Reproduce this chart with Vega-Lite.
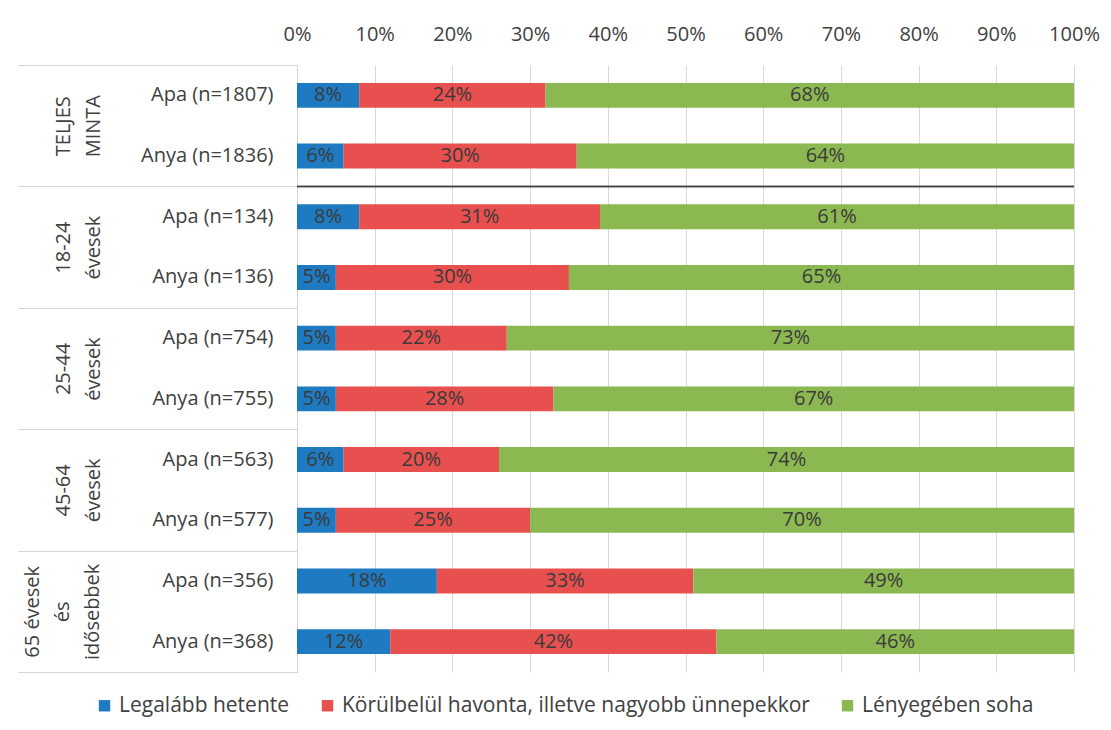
{
  "$schema": "https://vega.github.io/schema/vega-lite/v6.json",
  "width": 777,
  "height": 607,
  "autosize": {"type": "none"},
  "padding": {"left": 297, "top": 65, "right": 37, "bottom": 58},
  "background": "white",
  "config": {"view": {"stroke": null}, "font": "Open Sans"},
  "data": {
    "values": [
      {"group": "TELJES|MINTA", "row": "Apa (n=1807)", "Legalább hetente": 8, "Körülbelül havonta, illetve nagyobb ünnepekkor": 24, "Lényegében soha": 68},
      {"group": "TELJES|MINTA", "row": "Anya (n=1836)", "Legalább hetente": 6, "Körülbelül havonta, illetve nagyobb ünnepekkor": 30, "Lényegében soha": 64},
      {"group": "18-24|évesek", "row": "Apa (n=134)", "Legalább hetente": 8, "Körülbelül havonta, illetve nagyobb ünnepekkor": 31, "Lényegében soha": 61},
      {"group": "18-24|évesek", "row": "Anya (n=136)", "Legalább hetente": 5, "Körülbelül havonta, illetve nagyobb ünnepekkor": 30, "Lényegében soha": 65},
      {"group": "25-44|évesek", "row": "Apa (n=754)", "Legalább hetente": 5, "Körülbelül havonta, illetve nagyobb ünnepekkor": 22, "Lényegében soha": 73},
      {"group": "25-44|évesek", "row": "Anya (n=755)", "Legalább hetente": 5, "Körülbelül havonta, illetve nagyobb ünnepekkor": 28, "Lényegében soha": 67},
      {"group": "45-64|évesek", "row": "Apa (n=563)", "Legalább hetente": 6, "Körülbelül havonta, illetve nagyobb ünnepekkor": 20, "Lényegében soha": 74},
      {"group": "45-64|évesek", "row": "Anya (n=577)", "Legalább hetente": 5, "Körülbelül havonta, illetve nagyobb ünnepekkor": 25, "Lényegében soha": 70},
      {"group": "65 évesek|és|idősebbek", "row": "Apa (n=356)", "Legalább hetente": 18, "Körülbelül havonta, illetve nagyobb ünnepekkor": 33, "Lényegében soha": 49},
      {"group": "65 évesek|és|idősebbek", "row": "Anya (n=368)", "Legalább hetente": 12, "Körülbelül havonta, illetve nagyobb ünnepekkor": 42, "Lényegében soha": 46}
    ]
  },
  "resolve": {"scale": {"y": "independent"}, "axis": {"y": "independent"}},
  "layer": [
    {
      "transform": [
        {"fold": ["Legalább hetente", "Körülbelül havonta, illetve nagyobb ünnepekkor", "Lényegében soha"], "as": ["cat", "v"]},
        {"calculate": "indexof(['Legalább hetente', 'Körülbelül havonta, illetve nagyobb ünnepekkor', 'Lényegében soha'], datum.cat)", "as": "k"},
        {"stack": "v", "groupby": ["row"], "sort": [{"field": "k", "order": "ascending"}], "as": ["x0", "x1"]},
        {"calculate": "(datum.x0 + datum.x1) / 2", "as": "xm"},
        {"calculate": "datum.v + '%'", "as": "lab"}
      ],
      "layer": [
        {
          "mark": {"type": "bar"},
          "encoding": {
            "y": {
              "field": "row", "type": "nominal", "sort": null,
              "scale": {"type": "band", "paddingInner": 0.59, "paddingOuter": 0.295},
              "axis": {"orient": "left", "title": null, "ticks": false, "domain": false, "labelPadding": 24, "labelFontSize": 20, "labelColor": "#404040", "offset": 0}
            },
            "x": {
              "field": "x0", "type": "quantitative",
              "scale": {"domain": [0, 100], "nice": false},
              "axis": {"orient": "top", "title": null, "values": [0, 10, 20, 30, 40, 50, 60, 70, 80, 90, 100], "labelExpr": "datum.value + '%'", "ticks": false, "domain": false, "grid": true, "gridColor": "#d9d9d9", "labelFontSize": 20, "labelColor": "#404040", "labelPadding": 21, "labelFlush": false}
            },
            "x2": {"field": "x1"},
            "color": {
              "field": "cat", "type": "nominal",
              "scale": {"domain": ["Legalább hetente", "Körülbelül havonta, illetve nagyobb ünnepekkor", "Lényegében soha"], "range": ["#1f7bc1", "#e8504f", "#8cb851"]},
              "legend": {"title": null, "orient": "none", "direction": "horizontal", "legendX": -203, "legendY": 630, "symbolType": "square", "symbolSize": 130, "labelFontSize": 21, "labelColor": "#404040", "labelLimit": 0, "columnPadding": 27, "labelOffset": 4, "symbolStrokeWidth": 0}
            }
          }
        },
        {
          "mark": {"type": "text", "fontSize": 20, "color": "#3a3a3a"},
          "encoding": {
            "y": {"field": "row", "type": "nominal", "sort": null},
            "x": {"field": "xm", "type": "quantitative"},
            "text": {"field": "lab"}
          }
        }
      ]
    },
    {
      "transform": [{"filter": "datum.group == 'TELJES|MINTA'"}],
      "mark": {"type": "rule", "color": "#404040", "strokeWidth": 1.5},
      "encoding": {
        "y": {
          "field": "group", "type": "nominal", "bandPosition": 1,
          "scale": {"type": "band", "domain": ["TELJES|MINTA", "18-24|évesek", "25-44|évesek", "45-64|évesek", "65 évesek|és|idősebbek"], "paddingInner": 0, "paddingOuter": 0},
          "axis": {"orient": "left", "title": null, "tickBand": "extent", "tickSize": 279, "tickColor": "#d4d4d4", "tickWidth": 1, "domain": true, "domainColor": "#d4d4d4", "labelAngle": 270, "labelAlign": "center", "labelBaseline": "bottom", "labelPadding": {"condition": {"test": "datum.value == '65 évesek|és|idősebbek'", "value": -24}, "value": -55}, "labelExpr": "datum.value ? split(datum.value, '|') : ''", "labelFontSize": 20, "labelLineHeight": 30, "labelColor": "#404040", "labelOverlap": false, "labelBound": false, "labelFlush": false, "grid": false, "offset": 0}
        },
        "x": {"datum": 0},
        "x2": {"datum": 100}
      }
    }
  ]
}
